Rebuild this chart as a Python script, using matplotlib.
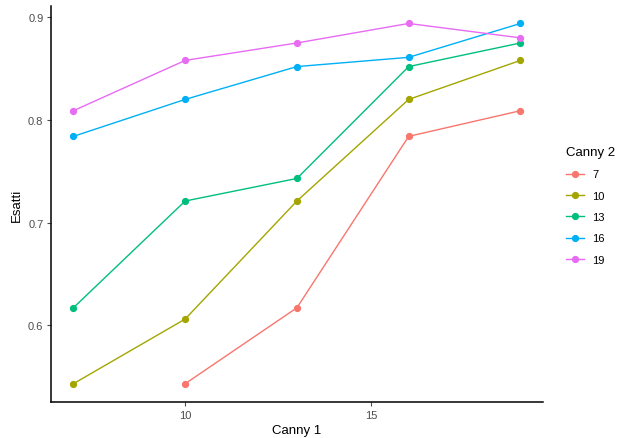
import matplotlib
matplotlib.use("Agg")
import matplotlib.pyplot as plt

# data
canny1 = [7, 10, 13, 16, 19]
canny2 = ["7", "10", "13", "16", "19"]
esatti = {
    "7": [None, 0.543, 0.617, 0.784, 0.809],
    "10": [0.543, 0.606, 0.721, 0.820, 0.858],
    "13": [0.617, 0.721, 0.743, 0.852, 0.875],
    "16": [0.784, 0.820, 0.852, 0.861, 0.894],
    "19": [0.809, 0.858, 0.875, 0.894, 0.880],
}
colors = ["#F8766D", "#A3A500", "#00BF7D", "#00B0F6", "#E76BF3"]

plt.rcParams['font.family'] = ['Liberation Sans', 'DejaVu Sans']

fig = plt.figure(figsize=(6.17, 4.39), dpi=100)
ax = fig.add_axes([0.0827, 0.082, 0.797, 0.902])

for name, col in zip(canny2, colors):
    pts = [(x, y) for x, y in zip(canny1, esatti[name]) if y is not None]
    xs, ys = zip(*pts)
    ax.plot(xs, ys, color=col, lw=1.0, marker="o", ms=4.2, label=name)

ax.set_xlim(6.4, 19.6)
ax.set_ylim(0.5252, 0.911)
ax.set_xticks([10, 15])
ax.set_yticks([0.6, 0.7, 0.8, 0.9])
ax.set_yticklabels(["0.6", "0.7", "0.8", "0.9"])

for side in ("top", "right"):
    ax.spines[side].set_visible(False)
for side in ("bottom", "left"):
    ax.spines[side].set_linewidth(1.1)
    ax.spines[side].set_color("black")
ax.tick_params(axis="both", direction="out", length=3, width=0.8,
               color="#4d4d4d", labelcolor="#4d4d4d", labelsize=8, pad=2.5)

ax.set_xlabel("Canny 1", fontsize=9.5, labelpad=3)
ax.set_ylabel("Esatti", fontsize=9.5, labelpad=4)

leg = ax.legend(title="Canny 2", loc="upper left", bbox_to_anchor=(0.918, 0.665),
                bbox_transform=fig.transFigure, frameon=False, fontsize=8,
                title_fontsize=9.5, handlelength=1.6, labelspacing=1.02,
                handletextpad=0.7, borderaxespad=0, borderpad=0)
leg._legend_box.align = "left"

fig.savefig("out.png", dpi=100)
